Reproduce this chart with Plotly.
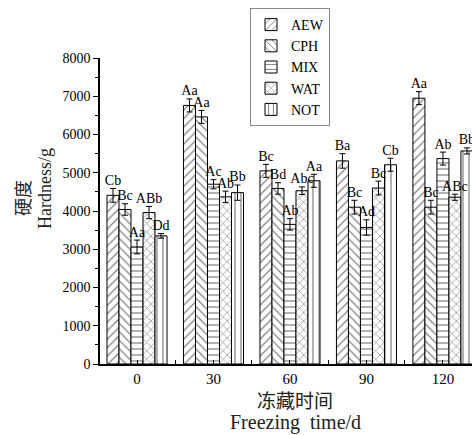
import plotly.graph_objects as go

groups = ["0", "30", "60", "90", "120"]
series = ["AEW", "CPH", "MIX", "WAT", "NOT"]
patterns = ["/", "\\", "-", "x", "|"]

AEW = [4410, 6760, 5050, 5310, 6950]
CPH = [4040, 6460, 4590, 4100, 4100]
MIX = [3060, 4700, 3650, 3570, 5370]
WAT = [3960, 4370, 4530, 4600, 4360]
NOT = [3350, 4480, 4790, 5210, 5570]

AEW_err = [180, 170, 170, 190, 170]
CPH_err = [150, 170, 150, 180, 180]
MIX_err = [180, 120, 150, 200, 170]
WAT_err = [160, 150, 100, 180, 80]
NOT_err = [60, 200, 170, 170, 80]

AEW_lab = ["Cb", "Aa", "Bc", "Ba", "Aa"]
CPH_lab = ["Bc", "Aa", "Bd", "Bc", "Bc"]
MIX_lab = ["Aa", "Ac", "Ab", "Ad", "Ab"]
WAT_lab = ["ABb", "Ab", "Abc", "Bc", "ABc"]
NOT_lab = ["Dd", "Bb", "Aa", "Cb", "Bb"]

values = [AEW, CPH, MIX, WAT, NOT]
errors = [AEW_err, CPH_err, MIX_err, WAT_err, NOT_err]
labels = [AEW_lab, CPH_lab, MIX_lab, WAT_lab, NOT_lab]

SERIF = "Liberation Serif, Times New Roman, serif"
CJK = "Noto Sans CJK SC"

W = 472
H = 435
ML, MR, MT, MB = 100, 0, 58, 71
PW = W - ML - MR
PH = H - MT - MB

bw = 0.157
base = list(range(len(groups)))

fig = go.Figure()
for k, name in enumerate(series):
    xs = [b + (k - 2) * bw for b in base]
    fig.add_trace(go.Bar(
        x=xs, y=values[k], width=bw, name=name,
        marker=dict(color="white", line=dict(color="black", width=1),
                    pattern=dict(shape=patterns[k], fgcolor="black", bgcolor="white",
                                 size=6, solidity=0.2)),
        error_y=dict(type="data", array=errors[k], color="black", thickness=1, width=3),
    ))
for k, name in enumerate(series):
    xs = [b + (k - 2) * bw for b in base]
    tops = [v + e for v, e in zip(values[k], errors[k])]
    fig.add_trace(go.Scatter(
        x=xs, y=tops, mode="text", text=labels[k], textposition="top center",
        textfont=dict(family=SERIF, size=14, color="black"),
        showlegend=False, hoverinfo="skip", cliponaxis=False,
    ))

fig.update_layout(
    width=W, height=H,
    margin=dict(l=ML, r=MR, t=MT, b=MB),
    plot_bgcolor="white", paper_bgcolor="white",
    barmode="overlay",
    showlegend=True,
    legend=dict(x=(250 - ML) / PW, y=(H - MB - 8) / PH, xanchor="left", yanchor="top",
                bordercolor="#888", borderwidth=1, bgcolor="white",
                font=dict(family=SERIF, size=14, color="black"),
                itemwidth=30, tracegroupgap=0),
    font=dict(family=SERIF, color="black"),
)

fig.update_xaxes(
    range=[-0.484, 4.38], tickvals=base, ticktext=groups,
    showline=True, linecolor="black", linewidth=1.5,
    ticks="inside", ticklen=4, tickcolor="black",
    minor=dict(tickvals=[b + 0.5 for b in base[:-1]], ticks="inside", ticklen=4, tickcolor="black"),
    showgrid=False, zeroline=False,
    tickfont=dict(family=SERIF, size=15, color="black"),
)
fig.update_yaxes(
    range=[0, 8000], tickvals=list(range(0, 8001, 1000)),
    showline=True, linecolor="black", linewidth=1.5,
    ticks="outside", ticklen=5, tickcolor="black",
    minor=dict(dtick=500, ticks="outside", ticklen=3, tickcolor="black"),
    showgrid=False, zeroline=False,
    tickfont=dict(family=SERIF, size=14, color="black"),
)

def px_x(p):
    return (p - ML) / PW

def px_y(p):
    return (H - MB - p) / PH

fig.add_annotation(text="硬度", xref="paper", yref="paper", x=px_x(22), y=px_y(198),
                   xanchor="center", yanchor="middle", textangle=-90, showarrow=False,
                   font=dict(family=CJK, size=18, color="#222"))
fig.add_annotation(text="Hardness/g", xref="paper", yref="paper", x=px_x(45), y=px_y(189),
                   xanchor="center", yanchor="middle", textangle=-90, showarrow=False,
                   font=dict(family=SERIF, size=18, color="#222"))
fig.add_annotation(text="冻藏时间", xref="paper", yref="paper", x=px_x(295), y=px_y(399),
                   xanchor="center", yanchor="middle", showarrow=False,
                   font=dict(family=CJK, size=19, color="#222"))
fig.add_annotation(text="Freezing  time/d", xref="paper", yref="paper", x=px_x(295), y=px_y(422),
                   xanchor="center", yanchor="middle", showarrow=False,
                   font=dict(family=SERIF, size=20, color="#222"))

fig.write_html("out.html")
